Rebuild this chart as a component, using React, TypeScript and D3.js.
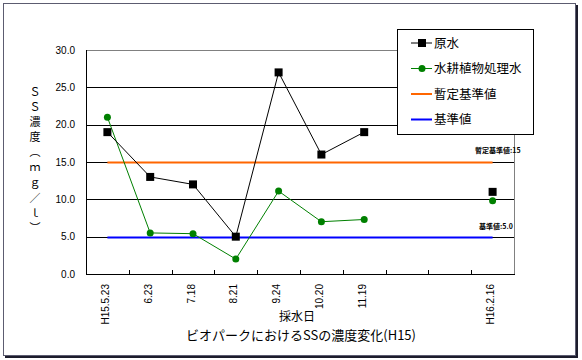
import React, { useEffect, useRef } from "react";
import * as d3 from "d3";

// sampling dates (two empty slots before the last one)
const dates = ["H15.5.23", "6.23", "7.18", "8.21", "9.24", "10.20", "11.19", "", " ", "H16.2.16"];
const rawWater: (number | null)[] = [19, 13, 12, 5, 27, 16, 19, null, null, 11];
const treatedWater: (number | null)[] = [21, 5.5, 5.4, 2, 11.1, 7, 7.3, null, null, 9.8];
const provisionalStd = 15;
const standard = 5;
const yTicks = [0, 5, 10, 15, 20, 25, 30];
const yTitleChars = ["Ｓ", "Ｓ", "濃", "度", "︵", "ｍ", "ｇ", "／", "ｌ", "︶"];

const W = 582;
const H = 360;
const JP = "'Noto Sans CJK JP', 'Noto Sans', sans-serif";
const NUM = "'Liberation Sans', Arial, sans-serif";

const App = () => {
  const svgRef = useRef<SVGSVGElement>(null);

  useEffect(() => {
    const svg = d3.select(svgRef.current);
    svg.selectAll("*").remove();

    const margin = { top: 50, right: 68, bottom: 86, left: 86 };
    const x = d3
      .scaleBand()
      .domain(dates)
      .range([margin.left, W - margin.right]);
    const y = d3
      .scaleLinear()
      .domain([0, 30])
      .range([H - margin.bottom, margin.top]);
    const cx = (i: number) => x(dates[i])! + x.bandwidth() / 2;

    // outer frame with shadow
    svg.append("rect").attr("x", 3.5).attr("y", 3.5).attr("width", 572).attr("height", 352)
      .attr("fill", "white").attr("stroke", "#5c5c70");
    svg.append("path").attr("d", "M577,5V357H5").attr("fill", "none")
      .attr("stroke", "#1c1c2c").attr("stroke-width", 2);

    // plot border top/right
    svg.append("path")
      .attr("d", `M${margin.left},${y(30) + 0.5}H${W - margin.right + 0.5}V${y(0)}`)
      .attr("fill", "none").attr("stroke", "#808080");

    // gridlines
    svg.append("g").selectAll("line").data(yTicks.filter((d) => d > 0 && d < 30)).join("line")
      .attr("x1", margin.left).attr("x2", W - margin.right)
      .attr("y1", (d) => Math.round(y(d)) + 0.5).attr("y2", (d) => Math.round(y(d)) + 0.5)
      .attr("stroke", "black");

    // axes
    svg.append("line").attr("x1", margin.left + 0.5).attr("x2", margin.left + 0.5)
      .attr("y1", y(30)).attr("y2", y(0)).attr("stroke", "black");
    svg.append("line").attr("x1", margin.left).attr("x2", W - margin.right + 1)
      .attr("y1", Math.round(y(0)) + 0.5).attr("y2", Math.round(y(0)) + 0.5).attr("stroke", "black");
    svg.append("g").selectAll("line").data(dates.slice(1)).join("line")
      .attr("x1", (d) => Math.round(x(d)!) + 0.5).attr("x2", (d) => Math.round(x(d)!) + 0.5)
      .attr("y1", y(0)).attr("y2", y(0) - 4).attr("stroke", "black");

    // y tick labels
    svg.append("g").selectAll("text").data(yTicks).join("text")
      .attr("x", 75).attr("y", (d) => y(d)).attr("dy", "0.35em")
      .attr("text-anchor", "end").attr("font-family", NUM).attr("font-size", 10)
      .text((d) => d.toFixed(1));

    // x tick labels
    svg.append("g").selectAll("text").data(dates).join("text")
      .attr("transform", (d, i) => `translate(${cx(i) - 2},284) rotate(-90)`)
      .attr("dy", "0.35em").attr("text-anchor", "end")
      .attr("font-family", NUM).attr("font-size", 10)
      .text((d) => d.trim());

    // standard lines
    const stdLine = (v: number, color: string) =>
      svg.append("line").attr("x1", cx(0)).attr("x2", cx(dates.length - 1))
        .attr("y1", Math.round(y(v)) + 0.5).attr("y2", Math.round(y(v)) + 0.5)
        .attr("stroke", color).attr("stroke-width", 2);
    stdLine(provisionalStd, "#ff6600");
    stdLine(standard, "#0000ff");

    svg.append("text").attr("x", 475).attr("y", y(provisionalStd) - 11)
      .attr("dy", "0.35em").attr("font-family", JP).attr("font-size", 7).attr("font-weight", "bold")
      .text("暫定基準値:15");
    svg.append("text").attr("x", 479).attr("y", y(standard) - 10)
      .attr("dy", "0.35em").attr("font-family", JP).attr("font-size", 7).attr("font-weight", "bold")
      .text("基準値:5.0");

    // series
    const line = d3.line<number | null>()
      .defined((d) => d !== null)
      .x((d, i) => cx(i))
      .y((d) => y(d as number));

    svg.append("path").datum(treatedWater).attr("d", line).attr("fill", "none")
      .attr("stroke", "#008000").attr("stroke-width", 1);
    svg.append("path").datum(rawWater).attr("d", line).attr("fill", "none")
      .attr("stroke", "black").attr("stroke-width", 1);

    const rawPts = rawWater.map((v, i) => ({ v, i })).filter((p) => p.v !== null);
    const trPts = treatedWater.map((v, i) => ({ v, i })).filter((p) => p.v !== null);

    svg.append("g").selectAll("rect").data(rawPts).join("rect")
      .attr("x", (p) => cx(p.i) - 4).attr("y", (p) => y(p.v!) - 4)
      .attr("width", 8).attr("height", 8).attr("fill", "black");
    svg.append("g").selectAll("circle").data(trPts).join("circle")
      .attr("cx", (p) => cx(p.i)).attr("cy", (p) => y(p.v!))
      .attr("r", 3.5).attr("fill", "#008000");

    // legend
    const lg = svg.append("g");
    lg.append("rect").attr("x", 397.5).attr("y", 29.5).attr("width", 136).attr("height", 105)
      .attr("fill", "white").attr("stroke", "black");
    const items = [
      { label: "原水", color: "black", mark: "square", w: 1 },
      { label: "水耕植物処理水", color: "#008000", mark: "circle", w: 1 },
      { label: "暫定基準値", color: "#ff6600", mark: "", w: 2 },
      { label: "基準値", color: "#0000ff", mark: "", w: 2 },
    ];
    items.forEach((it, k) => {
      const yy = 43 + k * 25.5;
      lg.append("line").attr("x1", 411).attr("x2", 432).attr("y1", yy).attr("y2", yy)
        .attr("stroke", it.color).attr("stroke-width", it.w);
      if (it.mark === "square")
        lg.append("rect").attr("x", 418).attr("y", yy - 4).attr("width", 8).attr("height", 8).attr("fill", it.color);
      if (it.mark === "circle")
        lg.append("circle").attr("cx", 422).attr("cy", yy).attr("r", 3.5).attr("fill", it.color);
      lg.append("text").attr("x", 434).attr("y", yy).attr("dy", "0.38em")
        .attr("font-family", JP).attr("font-size", 12.5).text(it.label);
    });

    // y axis title (vertical)
    svg.append("g").selectAll("text").data(yTitleChars).join("text")
      .attr("x", 35).attr("y", (d, i) => 92 + i * 15.1).attr("dy", "0.35em")
      .attr("text-anchor", "middle").attr("font-family", JP).attr("font-size", 11)
      .text((d) => d);

    // x axis title and chart title
    svg.append("text").attr("x", 297).attr("y", 321).attr("text-anchor", "middle")
      .attr("font-family", JP).attr("font-size", 12).text("採水日");
    svg.append("text").attr("x", 301).attr("y", 340).attr("text-anchor", "middle")
      .attr("font-family", JP).attr("font-size", 13).text("ビオパークにおけるSSの濃度変化(H15)");
  }, []);

  return (
    <svg
      ref={svgRef}
      width={W}
      height={H}
      style={{ position: "absolute", left: 0, top: 0, background: "white" }}
    ></svg>
  );
};

export default App;
